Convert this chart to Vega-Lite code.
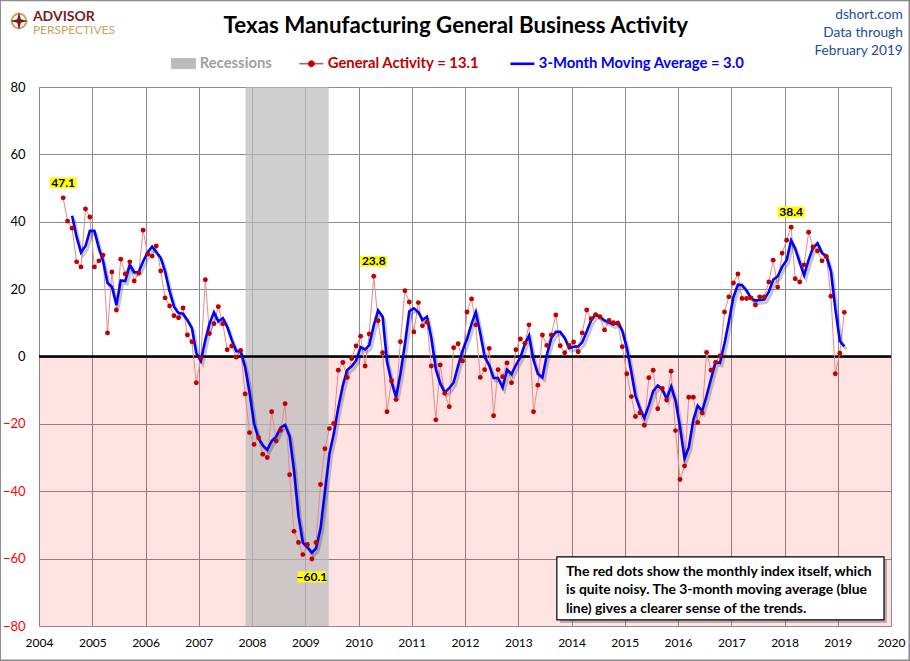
{
  "$schema": "https://vega.github.io/schema/vega-lite/v6.json",
  "width": 852,
  "height": 539,
  "autosize": {"type": "none"},
  "padding": {"left": 39, "top": 87, "right": 19, "bottom": 35},
  "background": "white",
  "datasets": {
    "activity": [
      {"date": "2004/06/15", "activity": 47.1},
      {"date": "2004/07/15", "activity": 40.2},
      {"date": "2004/08/15", "activity": 38.1, "ma": 41.8},
      {"date": "2004/09/15", "activity": 28.1, "ma": 35.5},
      {"date": "2004/10/15", "activity": 26.6, "ma": 30.9},
      {"date": "2004/11/15", "activity": 43.8, "ma": 32.8},
      {"date": "2004/12/15", "activity": 41.4, "ma": 37.3},
      {"date": "2005/01/15", "activity": 26.6, "ma": 37.3},
      {"date": "2005/02/15", "activity": 28.4, "ma": 32.1},
      {"date": "2005/03/15", "activity": 30.1, "ma": 28.4},
      {"date": "2005/04/15", "activity": 7.0, "ma": 21.8},
      {"date": "2005/05/15", "activity": 25.1, "ma": 20.7},
      {"date": "2005/06/15", "activity": 13.8, "ma": 15.3},
      {"date": "2005/07/15", "activity": 28.9, "ma": 22.6},
      {"date": "2005/08/15", "activity": 24.5, "ma": 22.4},
      {"date": "2005/09/15", "activity": 28.1, "ma": 27.2},
      {"date": "2005/10/15", "activity": 22.4, "ma": 25.0},
      {"date": "2005/11/15", "activity": 24.8, "ma": 25.1},
      {"date": "2005/12/15", "activity": 37.5, "ma": 28.2},
      {"date": "2006/01/15", "activity": 30.4, "ma": 30.9},
      {"date": "2006/02/15", "activity": 29.8, "ma": 32.6},
      {"date": "2006/03/15", "activity": 32.8, "ma": 31.0},
      {"date": "2006/04/15", "activity": 25.4, "ma": 29.3},
      {"date": "2006/05/15", "activity": 17.4, "ma": 25.2},
      {"date": "2006/06/15", "activity": 15.0, "ma": 19.3},
      {"date": "2006/07/15", "activity": 12.1, "ma": 14.8},
      {"date": "2006/08/15", "activity": 11.5, "ma": 12.9},
      {"date": "2006/09/15", "activity": 14.4, "ma": 12.7},
      {"date": "2006/10/15", "activity": 6.4, "ma": 10.8},
      {"date": "2006/11/15", "activity": 4.4, "ma": 8.4},
      {"date": "2006/12/15", "activity": -7.8, "ma": 1.0},
      {"date": "2007/01/15", "activity": -0.4, "ma": -1.3},
      {"date": "2007/02/15", "activity": 22.8, "ma": 4.9},
      {"date": "2007/03/15", "activity": 6.8, "ma": 9.7},
      {"date": "2007/04/15", "activity": 9.7, "ma": 13.1},
      {"date": "2007/05/15", "activity": 14.8, "ma": 10.4},
      {"date": "2007/06/15", "activity": 9.7, "ma": 11.4},
      {"date": "2007/07/15", "activity": 2.0, "ma": 8.8},
      {"date": "2007/08/15", "activity": 3.1, "ma": 4.9},
      {"date": "2007/09/15", "activity": -0.2, "ma": 1.6},
      {"date": "2007/10/15", "activity": 1.8, "ma": 1.6},
      {"date": "2007/11/15", "activity": -11.1, "ma": -3.2},
      {"date": "2007/12/15", "activity": -22.6, "ma": -10.6},
      {"date": "2008/01/15", "activity": -26.1, "ma": -19.9},
      {"date": "2008/02/15", "activity": -24.1, "ma": -24.3},
      {"date": "2008/03/15", "activity": -29.0, "ma": -26.4},
      {"date": "2008/04/15", "activity": -30.0, "ma": -27.7},
      {"date": "2008/05/15", "activity": -16.4, "ma": -25.1},
      {"date": "2008/06/15", "activity": -25.1, "ma": -23.8},
      {"date": "2008/07/15", "activity": -21.9, "ma": -21.1},
      {"date": "2008/08/15", "activity": -14.0, "ma": -20.3},
      {"date": "2008/09/15", "activity": -35.1, "ma": -23.7},
      {"date": "2008/10/15", "activity": -51.9, "ma": -33.7},
      {"date": "2008/11/15", "activity": -55.2, "ma": -47.4},
      {"date": "2008/12/15", "activity": -58.8, "ma": -55.3},
      {"date": "2009/01/15", "activity": -55.8, "ma": -56.6},
      {"date": "2009/02/15", "activity": -60.1, "ma": -58.2},
      {"date": "2009/03/15", "activity": -55.2, "ma": -57.0},
      {"date": "2009/04/15", "activity": -38.0, "ma": -51.1},
      {"date": "2009/05/15", "activity": -27.4, "ma": -40.2},
      {"date": "2009/06/15", "activity": -21.4, "ma": -28.9},
      {"date": "2009/07/15", "activity": -19.9, "ma": -22.9},
      {"date": "2009/08/15", "activity": -4.1, "ma": -15.1},
      {"date": "2009/09/15", "activity": -1.8, "ma": -8.6},
      {"date": "2009/10/15", "activity": -6.2, "ma": -4.0},
      {"date": "2009/11/15", "activity": -0.6, "ma": -2.9},
      {"date": "2009/12/15", "activity": 3.1, "ma": -1.2},
      {"date": "2010/01/15", "activity": 6.0, "ma": 2.8},
      {"date": "2010/02/15", "activity": -2.8, "ma": 2.1},
      {"date": "2010/03/15", "activity": 6.7, "ma": 3.3},
      {"date": "2010/04/15", "activity": 23.8, "ma": 9.2},
      {"date": "2010/05/15", "activity": 10.6, "ma": 13.7},
      {"date": "2010/06/15", "activity": 1.1, "ma": 11.8},
      {"date": "2010/07/15", "activity": -16.4, "ma": -1.6},
      {"date": "2010/08/15", "activity": -7.2, "ma": -7.5},
      {"date": "2010/09/15", "activity": -12.8, "ma": -12.1},
      {"date": "2010/10/15", "activity": 4.4, "ma": -5.2},
      {"date": "2010/11/15", "activity": 19.5, "ma": 3.7},
      {"date": "2010/12/15", "activity": 16.2, "ma": 13.4},
      {"date": "2011/01/15", "activity": 7.3, "ma": 14.3},
      {"date": "2011/02/15", "activity": 16.0, "ma": 13.2},
      {"date": "2011/03/15", "activity": 9.1, "ma": 10.8},
      {"date": "2011/04/15", "activity": 10.2, "ma": 11.8},
      {"date": "2011/05/15", "activity": -2.8, "ma": 5.5},
      {"date": "2011/06/15", "activity": -18.8, "ma": -3.8},
      {"date": "2011/07/15", "activity": -2.5, "ma": -8.0},
      {"date": "2011/08/15", "activity": -10.9, "ma": -10.7},
      {"date": "2011/09/15", "activity": -14.9, "ma": -9.4},
      {"date": "2011/10/15", "activity": 2.6, "ma": -7.7},
      {"date": "2011/11/15", "activity": 3.8, "ma": -2.8},
      {"date": "2011/12/15", "activity": -1.3, "ma": 1.7},
      {"date": "2012/01/15", "activity": 13.2, "ma": 5.2},
      {"date": "2012/02/15", "activity": 17.1, "ma": 9.7},
      {"date": "2012/03/15", "activity": 9.4, "ma": 13.2},
      {"date": "2012/04/15", "activity": -6.2, "ma": 6.8},
      {"date": "2012/05/15", "activity": -3.9, "ma": -0.2},
      {"date": "2012/06/15", "activity": 2.4, "ma": -2.6},
      {"date": "2012/07/15", "activity": -17.6, "ma": -6.4},
      {"date": "2012/08/15", "activity": -3.9, "ma": -6.4},
      {"date": "2012/09/15", "activity": -6.0, "ma": -9.2},
      {"date": "2012/10/15", "activity": -1.9, "ma": -3.9},
      {"date": "2012/11/15", "activity": -7.8, "ma": -5.2},
      {"date": "2012/12/15", "activity": 2.0, "ma": -2.6},
      {"date": "2013/01/15", "activity": 5.2, "ma": -0.2},
      {"date": "2013/02/15", "activity": 3.9, "ma": 3.7},
      {"date": "2013/03/15", "activity": 9.4, "ma": 6.2},
      {"date": "2013/04/15", "activity": -16.4, "ma": -1.0},
      {"date": "2013/05/15", "activity": -8.5, "ma": -5.2},
      {"date": "2013/06/15", "activity": 6.4, "ma": -6.2},
      {"date": "2013/07/15", "activity": 3.3, "ma": 0.4},
      {"date": "2013/08/15", "activity": 6.4, "ma": 5.4},
      {"date": "2013/09/15", "activity": 12.3, "ma": 7.3},
      {"date": "2013/10/15", "activity": 3.2, "ma": 7.3},
      {"date": "2013/11/15", "activity": 1.1, "ma": 5.5},
      {"date": "2013/12/15", "activity": 3.3, "ma": 2.5},
      {"date": "2014/01/15", "activity": 4.3, "ma": 2.9},
      {"date": "2014/02/15", "activity": 1.4, "ma": 3.0},
      {"date": "2014/03/15", "activity": 7.0, "ma": 4.2},
      {"date": "2014/04/15", "activity": 13.8, "ma": 7.4},
      {"date": "2014/05/15", "activity": 11.2, "ma": 10.7},
      {"date": "2014/06/15", "activity": 12.4, "ma": 12.5},
      {"date": "2014/07/15", "activity": 11.8, "ma": 11.8},
      {"date": "2014/08/15", "activity": 7.9, "ma": 10.7},
      {"date": "2014/09/15", "activity": 10.7, "ma": 10.1},
      {"date": "2014/10/15", "activity": 10.0, "ma": 9.5},
      {"date": "2014/11/15", "activity": 9.8, "ma": 10.2},
      {"date": "2014/12/15", "activity": 2.9, "ma": 7.6},
      {"date": "2015/01/15", "activity": -5.1, "ma": 2.5},
      {"date": "2015/02/15", "activity": -11.9, "ma": -4.7},
      {"date": "2015/03/15", "activity": -17.8, "ma": -11.6},
      {"date": "2015/04/15", "activity": -16.7, "ma": -15.5},
      {"date": "2015/05/15", "activity": -20.4, "ma": -18.3},
      {"date": "2015/06/15", "activity": -6.3, "ma": -14.5},
      {"date": "2015/07/15", "activity": -4.1, "ma": -10.3},
      {"date": "2015/08/15", "activity": -15.5, "ma": -8.6},
      {"date": "2015/09/15", "activity": -9.5, "ma": -9.7},
      {"date": "2015/10/15", "activity": -12.9, "ma": -12.6},
      {"date": "2015/11/15", "activity": -4.4, "ma": -8.9},
      {"date": "2015/12/15", "activity": -22.0, "ma": -13.1},
      {"date": "2016/01/15", "activity": -36.5, "ma": -21.0},
      {"date": "2016/02/15", "activity": -32.5, "ma": -30.3},
      {"date": "2016/03/15", "activity": -12.1, "ma": -27.0},
      {"date": "2016/04/15", "activity": -12.1, "ma": -18.9},
      {"date": "2016/05/15", "activity": -19.6, "ma": -14.6},
      {"date": "2016/06/15", "activity": -16.8, "ma": -16.2},
      {"date": "2016/07/15", "activity": 1.2, "ma": -11.7},
      {"date": "2016/08/15", "activity": -4.1, "ma": -6.6},
      {"date": "2016/09/15", "activity": -1.8, "ma": -1.6},
      {"date": "2016/10/15", "activity": 0.2, "ma": -1.9},
      {"date": "2016/11/15", "activity": 13.2, "ma": 3.9},
      {"date": "2016/12/15", "activity": 17.7, "ma": 10.4},
      {"date": "2017/01/15", "activity": 21.8, "ma": 17.6},
      {"date": "2017/02/15", "activity": 24.5, "ma": 21.3},
      {"date": "2017/03/15", "activity": 17.2, "ma": 21.2},
      {"date": "2017/04/15", "activity": 17.2, "ma": 19.6},
      {"date": "2017/05/15", "activity": 17.4, "ma": 17.3},
      {"date": "2017/06/15", "activity": 15.3, "ma": 16.6},
      {"date": "2017/07/15", "activity": 17.7, "ma": 16.8},
      {"date": "2017/08/15", "activity": 17.7, "ma": 16.9},
      {"date": "2017/09/15", "activity": 22.1, "ma": 19.2},
      {"date": "2017/10/15", "activity": 28.6, "ma": 22.8},
      {"date": "2017/11/15", "activity": 20.6, "ma": 23.8},
      {"date": "2017/12/15", "activity": 30.7, "ma": 26.6},
      {"date": "2018/01/15", "activity": 34.5, "ma": 28.6},
      {"date": "2018/02/15", "activity": 38.4, "ma": 34.5},
      {"date": "2018/03/15", "activity": 23.1, "ma": 32.0},
      {"date": "2018/04/15", "activity": 22.1, "ma": 27.9},
      {"date": "2018/05/15", "activity": 27.2, "ma": 24.1},
      {"date": "2018/06/15", "activity": 36.9, "ma": 28.7},
      {"date": "2018/07/15", "activity": 32.5, "ma": 32.2},
      {"date": "2018/08/15", "activity": 31.3, "ma": 33.6},
      {"date": "2018/09/15", "activity": 28.4, "ma": 30.7},
      {"date": "2018/10/15", "activity": 29.7, "ma": 29.8},
      {"date": "2018/11/15", "activity": 17.9, "ma": 25.3},
      {"date": "2018/12/15", "activity": -5.1, "ma": 14.2},
      {"date": "2019/01/15", "activity": 1.0, "ma": 4.6},
      {"date": "2019/02/15", "activity": 13.1, "ma": 3.0}
    ]
  },
  "layer": [
    {
      "data": {"values": [{"from": "2004/01/01", "to": "2020/01/01", "high": 0, "low": -80}]},
      "mark": {"type": "rect", "color": "#ff0000", "opacity": 0.11},
      "encoding": {
        "x": {
          "field": "from", "type": "temporal", "title": null,
          "scale": {"domain": [{"year": 2004, "month": 1, "date": 1}, {"year": 2020, "month": 1, "date": 1}], "nice": false},
          "axis": {"format": "%Y", "tickCount": {"interval": "year", "step": 1}}
        },
        "x2": {"field": "to"},
        "y": {
          "field": "high", "type": "quantitative", "title": null,
          "scale": {"domain": [-80, 80], "nice": false},
          "axis": {
            "values": [-80, -60, -40, -20, 0, 20, 40, 60, 80],
            "labelColor": {"condition": {"test": "datum.value < 0", "value": "#ff0000"}, "value": "#000000"}
          }
        },
        "y2": {"field": "low"}
      }
    },
    {
      "data": {"values": [{"start": "2007/11/18", "end": "2009/06/10"}]},
      "mark": {"type": "rect", "opacity": 0.7},
      "encoding": {
        "x": {"field": "start", "type": "temporal", "title": null},
        "x2": {"field": "end"},
        "y": {"datum": 80, "type": "quantitative", "title": null},
        "y2": {"datum": -80},
        "color": {
          "datum": "Recessions", "type": "nominal",
          "scale": {
            "domain": ["Recessions", "General Activity = 13.1", "3-Month Moving Average = 3.0"],
            "range": ["#bbbbbb", "#c00000", "#0000ff"]
          },
          "legend": {
            "orient": "none", "legendX": 137, "legendY": -31,
            "direction": "horizontal", "columns": 3, "columnPadding": 25,
            "title": null, "symbolSize": 576, "labelOffset": 9, "labelLimit": 400,
            "labelFont": "Lato", "labelFontSize": 14.8, "labelFontWeight": "bold",
            "encode": {
              "symbols": {
                "update": {
                  "shape": {"signal": "datum.value === 'Recessions' ? 'M-1,-0.42H1V0.42H-1Z' : datum.value === 'General Activity = 13.1' ? 'M-1,0H1M0.25,0A0.25,0.25,0,1,1,-0.25,0A0.25,0.25,0,1,1,0.25,0' : 'M-1,0H1'"},
                  "fill": {"signal": "datum.value === 'Recessions' ? '#d0d0d0' : datum.value === 'General Activity = 13.1' ? '#c00000' : 'transparent'"},
                  "stroke": {"signal": "datum.value === 'Recessions' ? 'transparent' : datum.value === 'General Activity = 13.1' ? '#e06060' : '#0000ff'"},
                  "strokeWidth": {"signal": "datum.value === '3-Month Moving Average = 3.0' ? 2.6 : 1"},
                  "size": {"value": 576}
                }
              },
              "labels": {
                "update": {
                  "fill": {"signal": "datum.value === 'Recessions' ? '#a0a0a0' : datum.value === 'General Activity = 13.1' ? '#c00000' : '#0000ff'"}
                }
              }
            }
          }
        }
      }
    },
    {
      "data": {"values": [{}]},
      "mark": {"type": "rule", "color": "#000000", "strokeWidth": 2.5},
      "encoding": {"y": {"datum": 0, "type": "quantitative", "title": null}}
    },
    {
      "data": {"name": "activity"},
      "mark": {"type": "line", "color": "#e8898a", "strokeWidth": 1},
      "encoding": {
        "x": {"field": "date", "type": "temporal", "title": null},
        "y": {"field": "activity", "type": "quantitative", "title": null}
      }
    },
    {
      "data": {"name": "activity"},
      "mark": {"type": "line", "color": "#000000", "opacity": 0.22, "strokeWidth": 3},
      "encoding": {
        "x": {"field": "date", "type": "temporal", "title": null},
        "y": {"field": "ma", "type": "quantitative", "title": null},
        "xOffset": {"value": 2},
        "yOffset": {"value": 3}
      }
    },
    {
      "data": {"name": "activity"},
      "mark": {"type": "line", "strokeWidth": 2.6},
      "encoding": {
        "x": {"field": "date", "type": "temporal", "title": null},
        "y": {"field": "ma", "type": "quantitative", "title": null},
        "color": {
          "datum": "3-Month Moving Average = 3.0", "type": "nominal",
          "legend": {
            "orient": "none", "legendX": 137, "legendY": -31,
            "direction": "horizontal", "columns": 3, "columnPadding": 25,
            "title": null, "symbolSize": 576, "labelOffset": 9, "labelLimit": 400,
            "labelFont": "Lato", "labelFontSize": 14.8, "labelFontWeight": "bold",
            "encode": {
              "symbols": {
                "update": {
                  "shape": {"signal": "datum.value === 'Recessions' ? 'M-1,-0.42H1V0.42H-1Z' : datum.value === 'General Activity = 13.1' ? 'M-1,0H1M0.25,0A0.25,0.25,0,1,1,-0.25,0A0.25,0.25,0,1,1,0.25,0' : 'M-1,0H1'"},
                  "fill": {"signal": "datum.value === 'Recessions' ? '#d0d0d0' : datum.value === 'General Activity = 13.1' ? '#c00000' : 'transparent'"},
                  "stroke": {"signal": "datum.value === 'Recessions' ? 'transparent' : datum.value === 'General Activity = 13.1' ? '#e06060' : '#0000ff'"},
                  "strokeWidth": {"signal": "datum.value === '3-Month Moving Average = 3.0' ? 2.6 : 1"},
                  "size": {"value": 576}
                }
              },
              "labels": {
                "update": {
                  "fill": {"signal": "datum.value === 'Recessions' ? '#a0a0a0' : datum.value === 'General Activity = 13.1' ? '#c00000' : '#0000ff'"}
                }
              }
            }
          }
        }
      }
    },
    {
      "data": {"name": "activity"},
      "mark": {"type": "point", "filled": true, "size": 24, "opacity": 1},
      "encoding": {
        "x": {"field": "date", "type": "temporal", "title": null},
        "y": {"field": "activity", "type": "quantitative", "title": null},
        "color": {
          "datum": "General Activity = 13.1", "type": "nominal",
          "legend": {
            "orient": "none", "legendX": 137, "legendY": -31,
            "direction": "horizontal", "columns": 3, "columnPadding": 25,
            "title": null, "symbolSize": 576, "labelOffset": 9, "labelLimit": 400,
            "labelFont": "Lato", "labelFontSize": 14.8, "labelFontWeight": "bold",
            "encode": {
              "symbols": {
                "update": {
                  "shape": {"signal": "datum.value === 'Recessions' ? 'M-1,-0.42H1V0.42H-1Z' : datum.value === 'General Activity = 13.1' ? 'M-1,0H1M0.25,0A0.25,0.25,0,1,1,-0.25,0A0.25,0.25,0,1,1,0.25,0' : 'M-1,0H1'"},
                  "fill": {"signal": "datum.value === 'Recessions' ? '#d0d0d0' : datum.value === 'General Activity = 13.1' ? '#c00000' : 'transparent'"},
                  "stroke": {"signal": "datum.value === 'Recessions' ? 'transparent' : datum.value === 'General Activity = 13.1' ? '#e06060' : '#0000ff'"},
                  "strokeWidth": {"signal": "datum.value === '3-Month Moving Average = 3.0' ? 2.6 : 1"},
                  "size": {"value": 576}
                }
              },
              "labels": {
                "update": {
                  "fill": {"signal": "datum.value === 'Recessions' ? '#a0a0a0' : datum.value === 'General Activity = 13.1' ? '#c00000' : '#0000ff'"}
                }
              }
            }
          }
        }
      }
    },
    {
      "data": {"name": "activity"},
      "transform": [{"filter": {"field": "activity", "oneOf": [47.1, 23.8, 38.4]}}],
      "mark": {"type": "point", "shape": "M-0.9,-1.367H0.9V-0.633H-0.9Z", "size": 900, "filled": true, "fill": "#ffff00", "opacity": 1, "strokeWidth": 0},
      "encoding": {
        "x": {"field": "date", "type": "temporal", "title": null},
        "y": {"field": "activity", "type": "quantitative", "title": null}
      }
    },
    {
      "data": {"name": "activity"},
      "transform": [{"filter": {"field": "activity", "equal": -60.1}}],
      "mark": {"type": "point", "shape": "M-0.95,0.833H0.95V1.567H-0.95Z", "size": 900, "filled": true, "fill": "#ffff00", "opacity": 1, "strokeWidth": 0},
      "encoding": {
        "x": {"field": "date", "type": "temporal", "title": null},
        "y": {"field": "activity", "type": "quantitative", "title": null}
      }
    },
    {
      "data": {"name": "activity"},
      "transform": [{"filter": {"field": "activity", "oneOf": [47.1, 23.8, 38.4]}}],
      "mark": {"type": "text", "dy": -15, "baseline": "middle", "font": "Lato", "fontSize": 12, "fontWeight": "bold", "color": "#000000"},
      "encoding": {
        "x": {"field": "date", "type": "temporal", "title": null},
        "y": {"field": "activity", "type": "quantitative", "title": null},
        "text": {"field": "activity", "type": "quantitative", "format": ".1f"}
      }
    },
    {
      "data": {"name": "activity"},
      "transform": [{"filter": {"field": "activity", "equal": -60.1}}],
      "mark": {"type": "text", "dy": 18, "baseline": "middle", "font": "Lato", "fontSize": 12, "fontWeight": "bold", "color": "#000000"},
      "encoding": {
        "x": {"field": "date", "type": "temporal", "title": null},
        "y": {"field": "activity", "type": "quantitative", "title": null},
        "text": {"field": "activity", "type": "quantitative", "format": ".1f"}
      }
    },
    {
      "data": {"values": [{"from": "2013/10/13", "to": "2019/12/04", "high": -60.4, "low": -79.1}]},
      "mark": {"type": "rect", "color": "#7f7f7f", "opacity": 0.55},
      "encoding": {
        "x": {"field": "from", "type": "temporal", "title": null},
        "x2": {"field": "to"},
        "y": {"field": "high", "type": "quantitative", "title": null},
        "y2": {"field": "low"}
      }
    },
    {
      "data": {"values": [{"from": "2013/09/22", "to": "2019/11/14", "high": -59.5, "low": -78.2}]},
      "mark": {"type": "rect", "fill": "#ffffff", "stroke": "#000000", "strokeWidth": 1.2, "opacity": 1},
      "encoding": {
        "x": {"field": "from", "type": "temporal", "title": null},
        "x2": {"field": "to"},
        "y": {"field": "high", "type": "quantitative", "title": null},
        "y2": {"field": "low"}
      }
    },
    {
      "data": {"values": [{"date": "2013/11/23", "value": -63.9, "note": "The red dots show the monthly  index itself, which\nis quite noisy. The 3-month moving average (blue\nline) gives a clearer sense of the trends."}]},
      "mark": {"type": "text", "align": "left", "baseline": "middle", "lineBreak": "\n", "lineHeight": 18.7, "font": "Lato", "fontSize": 13.9, "fontWeight": "bold", "color": "#000000"},
      "encoding": {
        "x": {"field": "date", "type": "temporal", "title": null},
        "y": {"field": "value", "type": "quantitative", "title": null},
        "text": {"field": "note"}
      }
    },
    {
      "data": {"values": [{"date": "2011/10/30", "value": 96.0, "headline": "Texas Manufacturing General Business Activity"}]},
      "mark": {"type": "text", "align": "center", "baseline": "alphabetic", "font": "Lato", "fontSize": 22.3, "fontWeight": "bold", "color": "#000000"},
      "encoding": {
        "x": {"field": "date", "type": "temporal", "title": null},
        "y": {"field": "value", "type": "quantitative", "title": null},
        "text": {"field": "headline"}
      }
    },
    {
      "data": {"values": [{"date": "2003/08/17", "value": 99.6}]},
      "mark": {"type": "point", "shape": "circle", "size": 210, "filled": false, "stroke": "#c5a35f", "strokeWidth": 2, "opacity": 1},
      "encoding": {
        "x": {"field": "date", "type": "temporal", "title": null},
        "y": {"field": "value", "type": "quantitative", "title": null}
      }
    },
    {
      "data": {"values": [{"date": "2003/08/17", "value": 99.6}]},
      "mark": {"type": "point", "shape": "M0,-1L0.2,-0.2L1,0L0.2,0.2L0,1L-0.2,0.2L-1,0L-0.2,-0.2Z", "size": 324, "filled": true, "fill": "#7b1a1f", "opacity": 1, "strokeWidth": 0},
      "encoding": {
        "x": {"field": "date", "type": "temporal", "title": null},
        "y": {"field": "value", "type": "quantitative", "title": null}
      }
    },
    {
      "data": {"values": [{"date": "2003/11/20", "value": 99.5, "word": "ADVISOR"}]},
      "mark": {"type": "text", "align": "left", "baseline": "alphabetic", "font": "Lato", "fontSize": 14, "fontWeight": "bold", "color": "#7b1a1f"},
      "encoding": {
        "x": {"field": "date", "type": "temporal", "title": null},
        "y": {"field": "value", "type": "quantitative", "title": null},
        "text": {"field": "word"}
      }
    },
    {
      "data": {"values": [{"date": "2003/11/20", "value": 95.7, "word": "PERSPECTIVES"}]},
      "mark": {"type": "text", "align": "left", "baseline": "alphabetic", "font": "Lato", "fontSize": 12, "color": "#c5a35f"},
      "encoding": {
        "x": {"field": "date", "type": "temporal", "title": null},
        "y": {"field": "value", "type": "quantitative", "title": null},
        "text": {"field": "word"}
      }
    },
    {
      "data": {"values": [{"date": "2020/03/22", "value": 101.4, "source": "dshort.com\nData through\nFebruary 2019"}]},
      "mark": {"type": "text", "align": "right", "baseline": "middle", "lineBreak": "\n", "lineHeight": 18, "font": "Lato", "fontSize": 13.7, "color": "#1e4c9c"},
      "encoding": {
        "x": {"field": "date", "type": "temporal", "title": null},
        "y": {"field": "value", "type": "quantitative", "title": null},
        "text": {"field": "source"}
      }
    },
    {
      "data": {"values": [{"from": "2003/04/10", "to": "2020/05/05", "high": 105.7, "low": -90.2}]},
      "mark": {"type": "rect", "fill": null, "fillOpacity": 0, "stroke": "#8c8c8c", "strokeWidth": 1.5},
      "encoding": {
        "x": {"field": "from", "type": "temporal", "title": null},
        "x2": {"field": "to"},
        "y": {"field": "high", "type": "quantitative", "title": null},
        "y2": {"field": "low"}
      }
    }
  ],
  "config": {
    "view": {"stroke": "#8c8c8c"},
    "font": "Lato",
    "axis": {
      "grid": true, "gridColor": "#8c8c8c", "gridWidth": 1, "domain": false, "ticks": false,
      "labelFont": "Lato", "labelColor": "#000000"
    },
    "axisX": {
      "labelPadding": 11, "labelFontSize": 12,
      "labelFlush": false, "labelOverlap": false, "labelBound": false
    },
    "axisY": {"labelPadding": 14, "labelFontSize": 13}
  }
}
